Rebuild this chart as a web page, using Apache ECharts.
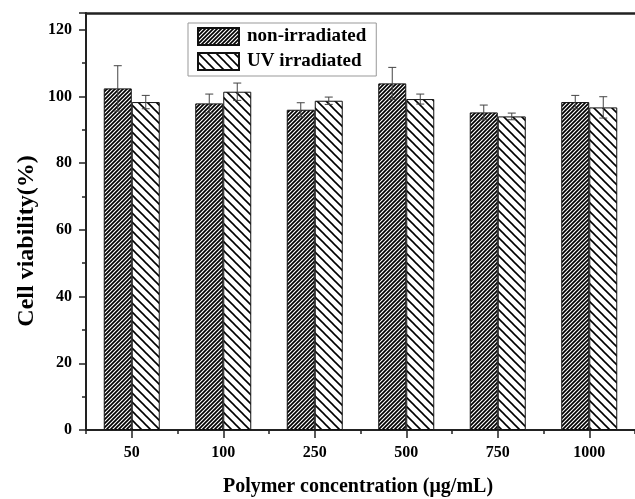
<!DOCTYPE html>
<html>
<head>
<meta charset="utf-8">
<script src="https://cdn.jsdelivr.net/npm/echarts@6/dist/echarts.min.js"></script>
<style>
  html, body { margin: 0; padding: 0; background: #fff; }
  #chart { width: 635px; height: 499px; }
</style>
</head>
<body>
<div id="chart"></div>
<script>
// Concentrations tested (µg/mL)
const categories = ['50', '100', '250', '500', '750', '1000'];
// Mean cell viability (%) and standard deviation per group
const nonIrradiated = [102.4, 97.9, 96.0, 103.9, 95.2, 98.3];
const nonIrradiatedErr = [6.8, 2.8, 2.1, 4.8, 2.2, 2.0];
const uvIrradiated = [98.3, 101.4, 98.7, 99.2, 94.0, 96.7];
const uvIrradiatedErr = [2.0, 2.6, 1.1, 1.5, 1.0, 3.2];
const seriesNames = ['non-irradiated', 'UV irradiated'];

const FONT = "'Liberation Serif', 'Times New Roman', serif";
const BAR_W = 28;

// Build a repeating diagonal hatch tile
function hatch(period, width, forward) {
  const c = document.createElement('canvas');
  c.width = period; c.height = period;
  const g = c.getContext('2d');
  g.fillStyle = '#fff';
  g.fillRect(0, 0, period, period);
  g.strokeStyle = '#000';
  g.lineWidth = width;
  g.lineCap = 'square';
  const p = period;
  const seg = (x1, y1, x2, y2) => {
    g.beginPath();
    if (forward) { g.moveTo(x1, y1); g.lineTo(x2, y2); }
    else { g.moveTo(p - x1, y1); g.lineTo(p - x2, y2); }
    g.stroke();
  };
  seg(-1, p + 1, p + 1, -1);
  seg(-1, 1, 1, -1);
  seg(p - 1, p + 1, p + 1, p - 1);
  return { image: c, repeat: 'repeat' };
}

const denseFill = hatch(4, 1.7, true);
const sparseFill = hatch(9, 1.6, false);

function errorSeries(values, errs, side) {
  return {
    type: 'custom',
    name: 'err' + side,
    silent: true,
    z: 10,
    data: values.map((v, i) => [i, v, errs[i]]),
    renderItem(params, api) {
      const i = api.value(0);
      const v = api.value(1);
      const e = api.value(2);
      const base = api.coord([i, v]);
      const x = base[0] + side * BAR_W / 2;
      const yTop = api.coord([i, v + e])[1];
      const yBot = api.coord([i, v - e])[1];
      const cap = 4;
      const style = { stroke: '#444', lineWidth: 1, fill: null };
      return {
        type: 'group',
        children: [
          { type: 'line', shape: { x1: x, y1: yTop, x2: x, y2: yBot }, style },
          { type: 'line', shape: { x1: x - cap, y1: yTop, x2: x + cap, y2: yTop }, style },
          { type: 'line', shape: { x1: x - cap, y1: yBot, x2: x + cap, y2: yBot }, style }
        ]
      };
    }
  };
}

const chart = echarts.init(document.getElementById('chart'), null, { renderer: 'canvas' });

const labelStyle = { color: '#000', fontFamily: FONT, fontWeight: 'bold', fontSize: 16 };

chart.setOption({
  animation: false,
  backgroundColor: '#fff',
  grid: { left: 86, top: 13, width: 558, height: 417 },
  legend: {
    data: seriesNames.map(n => ({ name: n, icon: 'rect' })),
    orient: 'vertical',
    left: 188,
    top: 23,
    itemWidth: 41,
    itemHeight: 17,
    itemGap: 6,
    padding: [4, 10, 5, 9],
    borderColor: '#999',
    borderWidth: 1,
    textStyle: { color: '#000', fontFamily: FONT, fontWeight: 'bold', fontSize: 19, padding: [0, 0, 0, 3] }
  },
  xAxis: [
    {
      type: 'category',
      data: categories,
      position: 'bottom',
      axisLine: { lineStyle: { color: '#222', width: 2 } },
      axisTick: { show: true, length: 4, lineStyle: { color: '#222', width: 1.5 } },
      axisLabel: Object.assign({ margin: 15 }, labelStyle),
      splitLine: { show: false }
    },
    {
      type: 'category',
      data: categories,
      position: 'bottom',
      axisLine: { show: false },
      axisTick: { show: true, alignWithLabel: true, length: 8, lineStyle: { color: '#222', width: 1.5 } },
      axisLabel: { show: false },
      splitLine: { show: false }
    },
    {
      type: 'category',
      data: categories,
      position: 'top',
      axisLine: { lineStyle: { color: '#222', width: 2.5 } },
      axisTick: { show: false },
      axisLabel: { show: false },
      splitLine: { show: false }
    }
  ],
  yAxis: [
    {
      type: 'value',
      position: 'left',
      min: 0,
      max: 125,
      interval: 20,
      axisLine: { show: true, lineStyle: { color: '#222', width: 2 } },
      axisTick: { show: true, length: 7, lineStyle: { color: '#222', width: 1.5 } },
      axisLabel: Object.assign({
        margin: 14,
        formatter: v => (v % 20 === 0 ? String(v) : '')
      }, labelStyle),
      splitLine: { show: false }
    },
    {
      type: 'value',
      position: 'left',
      min: 0,
      max: 125,
      interval: 10,
      axisLine: { show: false },
      axisTick: { show: true, length: 4, lineStyle: { color: '#222', width: 1.5 } },
      axisLabel: { show: false },
      splitLine: { show: false }
    }
  ],
  graphic: [
    {
      type: 'text',
      x: 27, y: 241,
      rotation: Math.PI / 2,
      style: {
        text: 'Cell viability(%)',
        fontFamily: FONT, fontWeight: 'bold', fontSize: 24,
        fill: '#000', align: 'center', verticalAlign: 'middle'
      }
    },
    {
      type: 'text',
      x: 358, y: 487,
      style: {
        text: 'Polymer concentration (μg/mL)',
        fontFamily: FONT, fontWeight: 'bold', fontSize: 20,
        fill: '#000', align: 'center', verticalAlign: 'middle'
      }
    }
  ],
  series: [
    {
      name: seriesNames[0],
      type: 'bar',
      data: nonIrradiated,
      barWidth: BAR_W,
      barGap: '0%',
      itemStyle: { color: denseFill, borderColor: '#111', borderWidth: 1 }
    },
    {
      name: seriesNames[1],
      type: 'bar',
      data: uvIrradiated,
      barWidth: BAR_W,
      barGap: '0%',
      itemStyle: { color: sparseFill, borderColor: '#111', borderWidth: 1 }
    },
    errorSeries(nonIrradiated, nonIrradiatedErr, -1),
    errorSeries(uvIrradiated, uvIrradiatedErr, 1)
  ]
});
</script>
</body>
</html>
